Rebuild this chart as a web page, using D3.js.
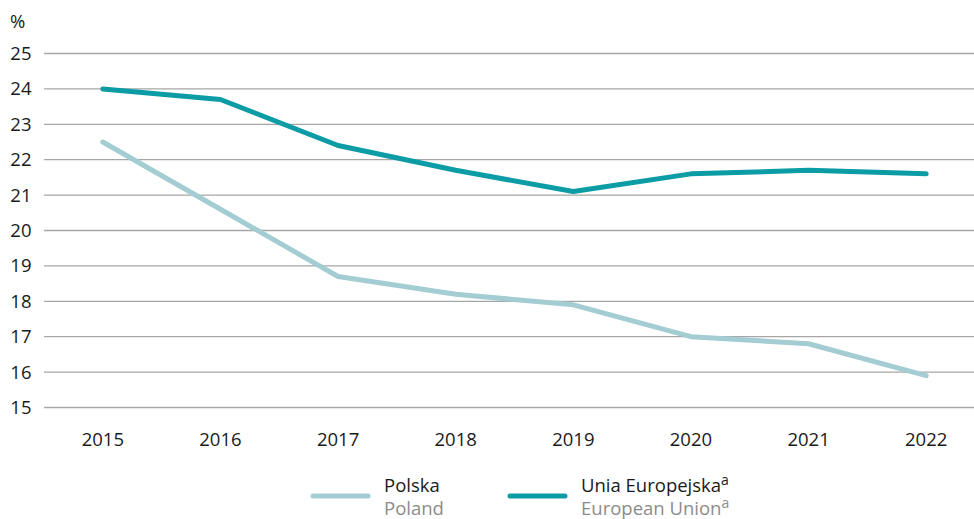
<!DOCTYPE html>
<html>
<head>
<meta charset="utf-8">
<script src="https://cdn.jsdelivr.net/npm/d3@7/dist/d3.min.js"></script>
<style>
  html, body { margin: 0; padding: 0; background: #fff; }
  svg { display: block; font-family: "Open Sans", "Noto Sans", sans-serif; }
</style>
</head>
<body>
<svg id="chart" width="974" height="519"></svg>
<script>
// Years on the horizontal axis
const years = ["2015", "2016", "2017", "2018", "2019", "2020", "2021", "2022"];
// Share (%) for Poland and the European Union
const polandValues = [22.5, 20.6, 18.7, 18.2, 17.9, 17.0, 16.8, 15.9];
const euValues = [24.0, 23.7, 22.4, 21.7, 21.1, 21.6, 21.7, 21.6];
const yTicks = [15, 16, 17, 18, 19, 20, 21, 22, 23, 24, 25];

const svg = d3.select("#chart");
const W = 974, H = 519;
const plotLeft = 44, plotRight = 985, plotTop = 53.5, plotBottom = 407.5;
const fontSize = 18.5;
const textColor = "#1a1a1a";

const x = d3.scaleBand().domain(years).range([plotLeft, plotRight]);
const y = d3.scaleLinear().domain([15, 25]).range([plotBottom, plotTop]);

// Horizontal gridlines
svg.append("g").selectAll("line").data(yTicks).join("line")
  .attr("x1", plotLeft).attr("x2", W)
  .attr("y1", d => y(d)).attr("y2", d => y(d))
  .attr("stroke", "#a6a6a6").attr("stroke-width", 1.3);

// Y axis labels
const yAxis = d3.axisLeft(y).tickValues(yTicks).tickSize(0).tickPadding(0);
const gy = svg.append("g").attr("transform", "translate(31.5,0)").call(yAxis);
gy.select(".domain").remove();
gy.selectAll("text").attr("font-size", fontSize).attr("fill", textColor)
  .attr("font-family", "'Open Sans', sans-serif");

svg.append("text").attr("x", 10).attr("y", 28).attr("font-size", fontSize)
  .attr("fill", textColor).text("%");

// X axis labels
const xAxis = d3.axisBottom(x).tickSize(0).tickPadding(0);
const gx = svg.append("g").attr("transform", "translate(0,433)").call(xAxis);
gx.select(".domain").remove();
gx.selectAll("text").attr("font-size", fontSize).attr("fill", textColor)
  .attr("font-family", "'Open Sans', sans-serif");

const line = d3.line()
  .x((d, i) => x(years[i]) + x.bandwidth() / 2)
  .y(d => y(d));

const polandColor = "#a3cdd2";
const euColor = "#0c9ca6";

svg.append("path").datum(polandValues).attr("d", line)
  .attr("fill", "none").attr("stroke", polandColor)
  .attr("stroke-width", 5).attr("stroke-linecap", "round").attr("stroke-linejoin", "round");

svg.append("path").datum(euValues).attr("d", line)
  .attr("fill", "none").attr("stroke", euColor)
  .attr("stroke-width", 5).attr("stroke-linecap", "round").attr("stroke-linejoin", "round");

// Legend
const legend = [
  { x: 313, color: polandColor, pl: "Polska", en: "Poland", sup: false },
  { x: 510, color: euColor, pl: "Unia Europejska", en: "European Union", sup: true }
];
const lg = svg.append("g").selectAll("g").data(legend).join("g")
  .attr("transform", d => `translate(${d.x},0)`);
lg.append("line").attr("x1", 0).attr("x2", 55).attr("y1", 496).attr("y2", 496)
  .attr("stroke", d => d.color).attr("stroke-width", 5).attr("stroke-linecap", "round");
const t1 = lg.append("text").attr("x", 71).attr("y", 492).attr("font-size", fontSize)
  .attr("fill", textColor).text(d => d.pl);
t1.filter(d => d.sup).append("tspan").attr("dy", -7).attr("font-size", 14).text("a");
const t2 = lg.append("text").attr("x", 71).attr("y", 515).attr("font-size", fontSize)
  .attr("fill", "#8c8c8c").text(d => d.en);
t2.filter(d => d.sup).append("tspan").attr("dy", -7).attr("font-size", 14).text("a");
</script>
</body>
</html>
